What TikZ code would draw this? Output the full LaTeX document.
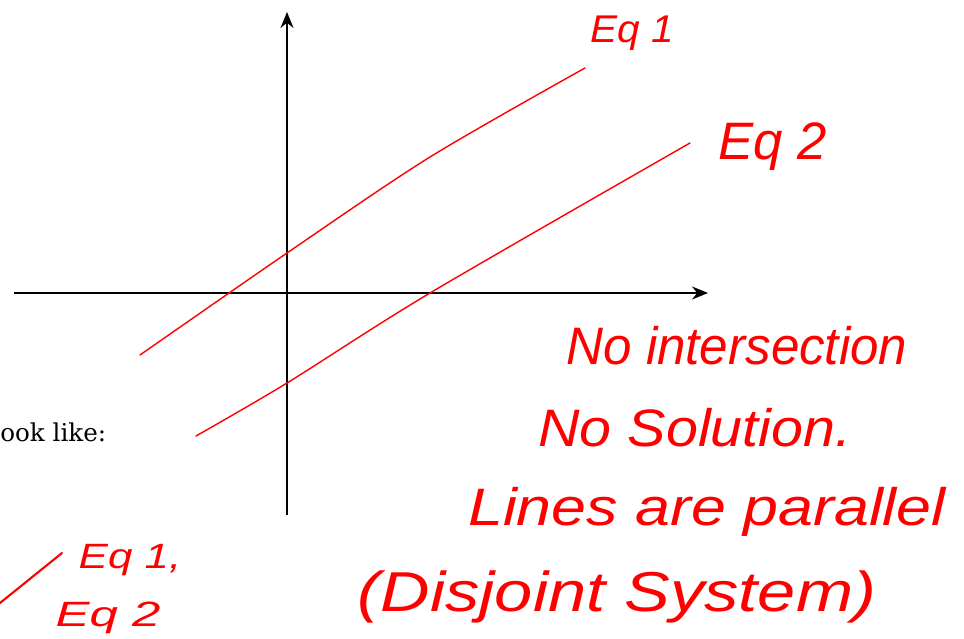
\documentclass[tikz,border=0pt]{standalone}
\usepackage{fontspec}
\setmainfont{Liberation Sans}
\newfontfamily\bookfont{DejaVu Serif}
\usetikzlibrary{arrows.meta}
\definecolor{pen}{RGB}{255,0,0}
\newcommand{\wide}[2]{\scalebox{#1}[1]{#2}}
\tikzset{
  >={Stealth[length=3.2mm,width=2.6mm]},
  ax/.style={line width=1.1pt,black},
  rl/.style={line width=0.8pt,pen,line cap=round},
  hw/.style={pen,inner sep=0pt,font=\fontsize{30}{34}\selectfont\itshape},
  sm/.style={pen,inner sep=0pt,font=\fontsize{22}{26}\selectfont\itshape},
  tiny/.style={pen,inner sep=0pt,font=\fontsize{20}{24}\selectfont\itshape},
}
\begin{document}
\begin{tikzpicture}[x=0.02cm,y=-0.02cm]
\useasboundingbox (0,0) rectangle (964,639);
% axes
\coordinate (xl) at (14,293); \coordinate (xr) at (708,293);
\coordinate (yb) at (287,515); \coordinate (yt) at (287,12);
\draw[ax,->] (xl)--(xr); \draw[ax,->] (yb)--(yt);
% the two lines
\coordinate (a0) at (140,355); \coordinate (a1) at (287,253); \coordinate (a2) at (430,157); \coordinate (a3) at (585,68);
\coordinate (b0) at (196,436); \coordinate (b1) at (287,383); \coordinate (b2) at (430,293); \coordinate (b3) at (690,143);
\draw[rl] plot[smooth] coordinates {(a0) (a1) (a2) (a3)};
\draw[rl] plot[smooth] coordinates {(b0) (b1) (b2) (b3)};
\node[sm] (e1) at (632,33){\wide{1.05}{Eq 1}}; \node[hw] (e2) at (773,147){Eq 2};
% notes
\node[hw] (t1) at (737,346){\wide{0.97}{No intersection}};
\node[hw] (t2) at (695,428){\wide{1.09}{No Solution.}};
\node[hw] (t3) at (707,512){\wide{1.19}{Lines are parallel}};
\node[hw,font=\fontsize{32}{36}\selectfont\itshape] (t4) at (617,597){\wide{1.22}{(Disjoint System)}};
\node[anchor=west,inner sep=0pt,font=\bookfont\fontsize{14}{16}\selectfont] (lk) at (0,432){ook like:};
% bottom corner
\coordinate (c0) at (0,603); \coordinate (c1) at (62,553);
\draw[rl,line width=1.2pt] (c0)--(c1);
\node[tiny] (f1) at (130,560){\wide{1.25}{Eq 1,}}; \node[tiny] (f2) at (108,618){\wide{1.45}{Eq 2}};
\end{tikzpicture}
\end{document}
